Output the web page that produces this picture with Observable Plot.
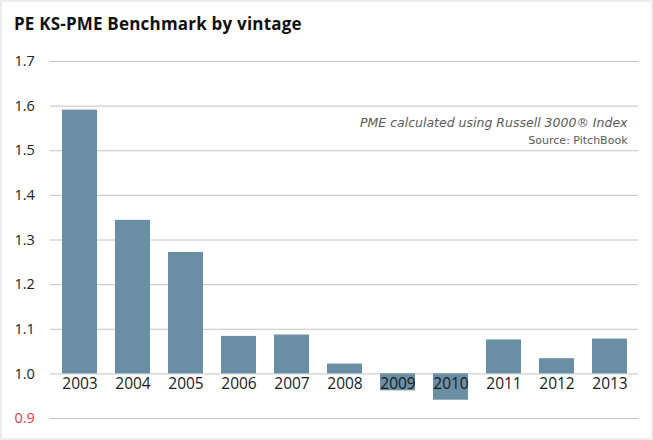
<!DOCTYPE html>
<html>
<head>
<meta charset="utf-8">
<script src="https://cdn.jsdelivr.net/npm/d3@7"></script>
<script src="https://cdn.jsdelivr.net/npm/@observablehq/plot@0.6"></script>
<style>
  html, body { margin: 0; padding: 0; background: #fff; }
  #wrap { position: relative; width: 653px; height: 440px; overflow: hidden; font-family: "Open Sans", sans-serif; }
  #title { position: absolute; left: 14px; top: 12px; font-size: 17px; font-weight: 700; color: #111; letter-spacing: 0.2px; }
  #chart { position: absolute; left: 0; top: 40px; }
  #border { position: absolute; left: 0; top: 0; width: 653px; height: 440px; box-sizing: border-box; border: 2px solid #ededed; pointer-events: none; }
</style>
</head>
<body>
<div id="wrap">
  <div id="title">PE KS-PME Benchmark by vintage</div>
  <div id="chart"></div>
  <div id="border"></div>
</div>
<script>
const years = ["2003","2004","2005","2006","2007","2008","2009","2010","2011","2012","2013"];
const values = [1.591, 1.344, 1.272, 1.084, 1.087, 1.022, 0.962, 0.941, 1.076, 1.034, 1.078];
const yTicks = [0.9, 1.0, 1.1, 1.2, 1.3, 1.4, 1.5, 1.6, 1.7];
const baseline = 1.0;
const noteLine = "PME calculated using Russell 3000® Index";
const sourceLine = "Source: PitchBook";

const data = years.map((y, i) => ({year: y, value: values[i]}));
const ticks = yTicks.map(t => ({t, label: t.toFixed(1)}));

const plot = Plot.plot({
  width: 653,
  height: 400,
  marginTop: 21,
  marginBottom: 22,
  marginLeft: 50,
  marginRight: 15,
  style: {fontFamily: "'Open Sans', sans-serif", background: "transparent"},
  x: {domain: years, paddingInner: 0.343, paddingOuter: 0.19, axis: null},
  y: {domain: [0.9, 1.7], axis: null},
  marks: [
    Plot.ruleY(yTicks, {stroke: "#c4c4c4", strokeWidth: 1}),
    Plot.barY(data, {x: "year", y1: baseline, y2: "value", fill: "#6a8fa5"}),
    Plot.text(ticks, {y: "t", text: "label", frameAnchor: "left", dx: -36, textAnchor: "start",
      fontSize: 14.5, fill: d => d.t < 1 ? "#d9404c" : "#222"}),
    Plot.text(data, {x: "year", y: () => baseline, text: "year", dy: 10, fontSize: 15.5, fill: "#1a1a1a"}),
    Plot.text([noteLine], {frameAnchor: "top-right", dx: -11, dy: 57, fontSize: 12.5, fontStyle: "italic", fill: "#5a5a5a", fontFamily: "'DejaVu Sans', sans-serif"}),
    Plot.text([sourceLine], {frameAnchor: "top-right", dx: -11, dy: 75, fontSize: 11, fill: "#5a5a5a", fontFamily: "'DejaVu Sans', sans-serif"})
  ]
});
document.getElementById("chart").appendChild(plot);
</script>
</body>
</html>
